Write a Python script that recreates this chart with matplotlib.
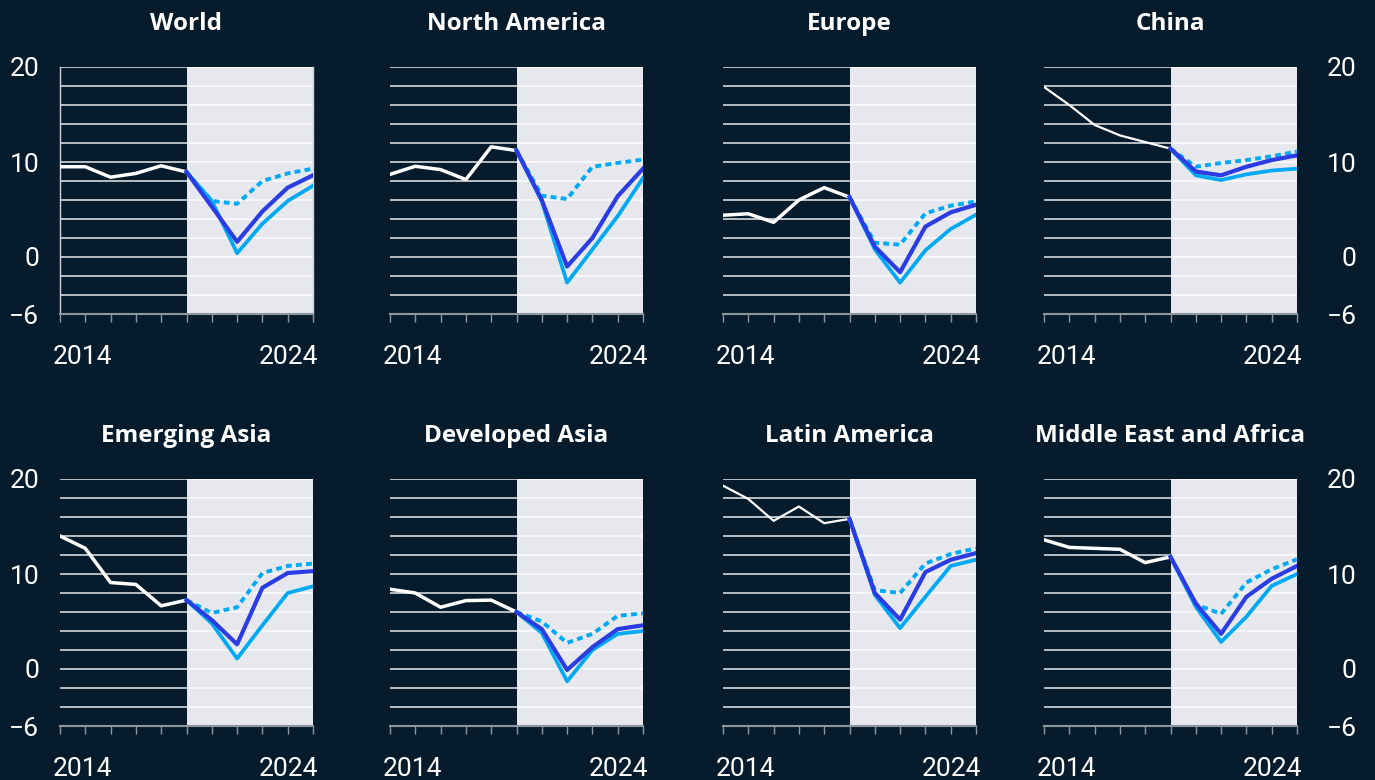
import numpy as np
import matplotlib
matplotlib.use("Agg")
import matplotlib.pyplot as plt
import matplotlib.transforms as mtransforms

# years: history 2014-2019, scenarios 2019-2024
years_hist = [2014, 2015, 2016, 2017, 2018, 2019]
years_scen = [2019, 2020, 2021, 2022, 2023, 2024]

regions = ["World", "North America", "Europe", "China",
           "Emerging Asia", "Developed Asia", "Latin America", "Middle East and Africa"]

history = {
    "World":                  [9.5, 9.5, 8.4, 8.8, 9.6, 8.95],
    "North America":          [8.7, 9.55, 9.2, 8.15, 11.6, 11.2],
    "Europe":                 [4.4, 4.55, 3.65, 6.0, 7.3, 6.3],
    "China":                  [17.9, 16.0, 13.9, 12.8, 12.1, 11.4],
    "Emerging Asia":          [14.0, 12.7, 9.1, 8.9, 6.65, 7.25],
    "Developed Asia":         [8.4, 8.0, 6.5, 7.2, 7.25, 6.0],
    "Latin America":          [19.3, 17.9, 15.6, 17.1, 15.35, 15.8],
    "Middle East and Africa": [13.6, 12.8, 12.7, 12.6, 11.2, 11.8],
}

# scenario values 2020-2024 (2019 joins the history)
scen_dark = {
    "World":                  [5.3, 1.6, 4.8, 7.3, 8.6],
    "North America":          [6.0, -1.0, 2.0, 6.4, 9.3],
    "Europe":                 [1.1, -1.6, 3.2, 4.7, 5.5],
    "China":                  [9.0, 8.6, 9.5, 10.2, 10.7],
    "Emerging Asia":          [5.15, 2.6, 8.55, 10.1, 10.3],
    "Developed Asia":         [4.2, -0.1, 2.3, 4.2, 4.6],
    "Latin America":          [8.0, 5.2, 10.2, 11.5, 12.2],
    "Middle East and Africa": [6.9, 3.7, 7.6, 9.5, 10.85],
}
scen_light = {
    "World":                  [5.9, 0.4, 3.5, 5.9, 7.5],
    "North America":          [5.85, -2.7, 0.8, 4.3, 8.3],
    "Europe":                 [0.8, -2.7, 0.7, 2.95, 4.45],
    "China":                  [8.6, 8.1, 8.7, 9.1, 9.3],
    "Emerging Asia":          [4.8, 1.1, 4.6, 8.0, 8.7],
    "Developed Asia":         [3.8, -1.3, 2.0, 3.7, 4.0],
    "Latin America":          [7.8, 4.3, 7.6, 10.85, 11.5],
    "Middle East and Africa": [6.55, 2.85, 5.5, 8.75, 10.0],
}
scen_dotted = {
    "World":                  [5.9, 5.6, 8.0, 8.8, 9.3],
    "North America":          [6.45, 6.1, 9.5, 9.9, 10.25],
    "Europe":                 [1.5, 1.3, 4.6, 5.4, 5.85],
    "China":                  [9.5, 9.9, 10.2, 10.6, 11.1],
    "Emerging Asia":          [5.9, 6.5, 10.1, 10.85, 11.1],
    "Developed Asia":         [5.0, 2.75, 3.7, 5.6, 5.85],
    "Latin America":          [8.3, 8.0, 11.1, 12.1, 12.7],
    "Middle East and Africa": [6.8, 5.8, 9.1, 10.5, 11.55],
}

y_ticks = list(range(-6, 21, 2))
y_labels = {-6: "\u22126", 0: "0", 10: "10", 20: "20"}

BG = "#061c2c"
SHADE = "#e6e8ed"
DARK = "#2b3ce2"
LIGHT = "#00a9f4"
AXIS = "#8c969e"

W, H = 1375, 780
fig = plt.figure(figsize=(W / 100, H / 100), dpi=100, facecolor=BG)

col_left = [60, 390, 723, 1044]
row_top = [67, 479]
pw, ph = 253, 247
label_font = ["Roboto", "DejaVu Sans"]
title_font = ["Open Sans", "DejaVu Sans"]
LBL = 19

for i, name in enumerate(regions):
    r, c = divmod(i, 4)
    ax = fig.add_axes([col_left[c] / W, 1 - (row_top[r] + ph) / H, pw / W, ph / H])
    ax.set_facecolor(BG)
    ax.axvspan(2019, 2024, color=SHADE, zorder=0.2, lw=0)

    ax.set_xlim(2014, 2024)
    ax.set_ylim(-6, 20)

    ax.set_yticks(y_ticks)
    ax.grid(axis="y", color="white", lw=1.1, alpha=0.9)
    ax.set_axisbelow(True)
    ax.tick_params(axis="y", length=0)
    if c == 0:
        ax.set_yticklabels([y_labels.get(v, "") for v in y_ticks])
        ax.tick_params(axis="y", pad=15, labelcolor="white", labelsize=LBL)
    elif c == 3:
        ax.yaxis.tick_right()
        ax.set_yticklabels([y_labels.get(v, "") for v in y_ticks])
        ax.tick_params(axis="y", pad=43, labelcolor="white", labelsize=LBL)
        for lab in ax.get_yticklabels():
            lab.set_horizontalalignment("right")
    else:
        ax.set_yticklabels([])
    for lab in ax.get_yticklabels():
        lab.set_family(label_font)

    xt = list(range(2014, 2025))
    ax.set_xticks(xt)
    ax.set_xticklabels(["2014"] + [""] * 9 + ["2024"])
    ax.tick_params(axis="x", length=6, width=1, color=AXIS, pad=16,
                   labelcolor="white", labelsize=LBL)
    xl = ax.get_xticklabels()
    xl[0].set_horizontalalignment("left")
    xl[-1].set_horizontalalignment("right")
    for lab in xl:
        lab.set_family(label_font)

    for s in ["top", "left", "right"]:
        ax.spines[s].set_visible(False)
    ax.spines["bottom"].set_color(AXIS)
    ax.spines["bottom"].set_linewidth(1.5)
    if name == "World":
        for s in ["left", "right"]:
            ax.spines[s].set_visible(True)
            ax.spines[s].set_color("#cfd3d8")
            ax.spines[s].set_linewidth(1)

    h = history[name]
    hist_lw = 1.6 if name in ("China", "Latin America") else 2.5
    ax.plot(years_hist, h, color="white", lw=hist_lw, zorder=3)
    ax.plot(years_scen, [h[-1]] + scen_light[name], color=LIGHT, lw=2.7, zorder=3)
    ax.plot(years_scen, [h[-1]] + scen_dotted[name], color=LIGHT, lw=2.8,
            ls=(0, (1.5, 1.1)), zorder=3)
    ax.plot(years_scen, [h[-1]] + scen_dark[name], color=DARK, lw=3.0, zorder=4)

    ax.set_title(name, color="white", fontsize=17.5, fontweight="bold",
                 family=title_font, pad=27)

# small nudge so 2014 / 2024 labels sit like the original
for ax in fig.axes:
    xl = ax.get_xticklabels()
    xl[0].set_transform(xl[0].get_transform() + mtransforms.ScaledTranslation(-7 / 100, 0, fig.dpi_scale_trans))
    xl[-1].set_transform(xl[-1].get_transform() + mtransforms.ScaledTranslation(5 / 100, 0, fig.dpi_scale_trans))

fig.savefig("out.png", dpi=100, facecolor=BG)
